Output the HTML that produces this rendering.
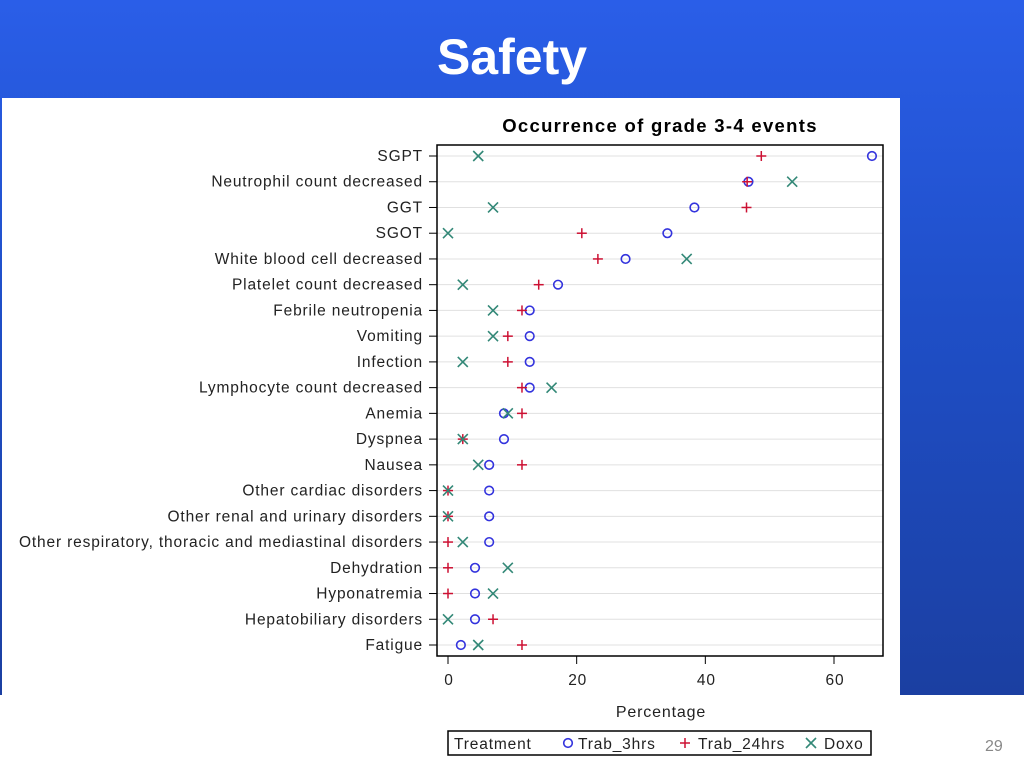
<!DOCTYPE html>
<html><head><meta charset="utf-8"><style>
html,body{margin:0;padding:0}
body{width:1024px;height:768px;position:relative;overflow:hidden;font-family:"Liberation Sans",sans-serif;background:linear-gradient(180deg,#2a5ee8 0%,#1f4fc8 40%,#1a3c9a 100%)}
#title{position:absolute;left:0;width:1024px;top:28px;text-align:center;color:#fff;font-weight:bold;font-size:50px}
#bottom{position:absolute;left:0;top:695px;width:1024px;height:73px;background:#fff}
#panel{position:absolute;left:2px;top:98px;width:898px;height:670px;background:#fff}
#pn{position:absolute;left:985px;top:738px;color:#888;font-size:16px}
svg text{letter-spacing:0.85px}
</style></head><body>
<div id="title">Safety</div>
<div id="bottom"></div>
<div id="panel"></div>
<div id="pn">29</div>
<svg id="chart" width="1024" height="768" style="position:absolute;left:0;top:0"></svg>
<script>
const categories=["SGPT","Neutrophil count decreased","GGT","SGOT","White blood cell decreased","Platelet count decreased","Febrile neutropenia","Vomiting","Infection","Lymphocyte count decreased","Anemia","Dyspnea","Nausea","Other cardiac disorders","Other renal and urinary disorders","Other respiratory, thoracic and mediastinal disorders","Dehydration","Hyponatremia","Hepatobiliary disorders","Fatigue"];
const trab3=[65.9,46.7,38.3,34.1,27.6,17.1,12.7,12.7,12.7,12.7,8.7,8.7,6.4,6.4,6.4,6.4,4.2,4.2,4.2,2.0];
const trab24=[48.7,46.5,46.4,20.8,23.3,14.1,11.5,9.3,9.3,11.5,11.5,2.3,11.5,0,0,0,0,0,7.0,11.5];
const doxo=[4.7,53.5,7.0,0,37.1,2.3,7.0,7.0,2.3,16.1,9.3,2.3,4.7,0,0,2.3,9.3,7.0,0,4.7];
const xTicks=[0,20,40,60];
const NS="http://www.w3.org/2000/svg";
const svg=document.getElementById('chart');
const L=437,R=883,T=145,B=656;
const x=v=>448+v*(834-448)/60;
const y=i=>156+i*(645-156)/19;
function el(tag,attrs,parent){const e=document.createElementNS(NS,tag);for(const k in attrs)e.setAttribute(k,attrs[k]);(parent||svg).appendChild(e);return e;}
const t=el('text',{x:660,y:132,'text-anchor':'middle','font-size':18.5,'font-weight':'bold',fill:'#000','font-family':'Liberation Sans',style:'letter-spacing:1.3px'});
t.textContent="Occurrence of grade 3-4 events";


categories.forEach((c,i)=>{
  const g=el('line',{x1:L,x2:R,y1:y(i),y2:y(i),stroke:'#e0e0e0','stroke-width':1});
  
  
  el('line',{x1:L-8,x2:L,y1:y(i),y2:y(i),stroke:'#000'});
  const lb=el('text',{x:L-14,y:y(i)+5,'text-anchor':'end','font-size':15.5,fill:'#222','font-family':'Liberation Sans'});
  lb.textContent=c;
  
  
});
const box=el('rect',{x:L,y:T,width:R-L,height:B-T,fill:'none',stroke:'#000','stroke-width':1.5});


xTicks.forEach(v=>{
  el('line',{x1:x(v),x2:x(v),y1:B,y2:B+8,stroke:'#000'});
  const tl=el('text',{x:x(v)+1,y:685,'text-anchor':'middle','font-size':15.5,fill:'#222','font-family':'Liberation Sans'});
  tl.textContent=v;
  
  
});
const xt=el('text',{x:661,y:717,'text-anchor':'middle','font-size':16,fill:'#222','font-family':'Liberation Sans'});
xt.textContent="Percentage";


function circle(cx,cy,p){return el('circle',{cx:cx,cy:cy,r:4.3,fill:'none',stroke:'#3333dd','stroke-width':1.6},p);}
function plus(cx,cy,p){const g=el('g',{stroke:'#cc1133','stroke-width':1.5},p);el('line',{x1:cx-5,x2:cx+5,y1:cy,y2:cy},g);el('line',{x1:cx,x2:cx,y1:cy-5,y2:cy+5},g);return g;}
function cross(cx,cy,p){const g=el('g',{stroke:'#338877','stroke-width':1.6},p);el('line',{x1:cx-5,x2:cx+5,y1:cy-5,y2:cy+5},g);el('line',{x1:cx-5,x2:cx+5,y1:cy+5,y2:cy-5},g);return g;}
trab3.forEach((v,i)=>{const m=circle(x(v),y(i));});
trab24.forEach((v,i)=>{const m=plus(x(v),y(i));});
doxo.forEach((v,i)=>{const m=cross(x(v),y(i));});
const lg=el('g',{});


el('rect',{x:448,y:731,width:423,height:24,fill:'#fff',stroke:'#000','stroke-width':1.5},lg);
const lt=[["Treatment",454],["Trab_3hrs",578],["Trab_24hrs",698],["Doxo",824]];
lt.forEach(([s,px])=>{const e=el('text',{x:px,y:749,'font-size':15.5,fill:'#222','font-family':'Liberation Sans'},lg);e.textContent=s;});
circle(568,743,lg);plus(685,743,lg);cross(811,743,lg);
</script>
</body></html>
